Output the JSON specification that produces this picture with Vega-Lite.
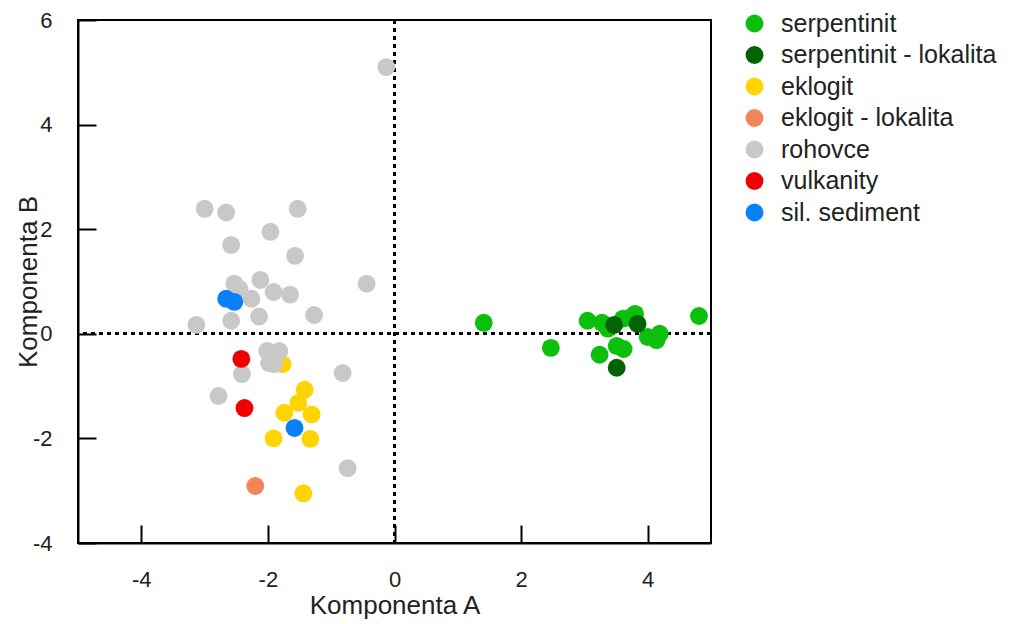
{
  "$schema": "https://vega.github.io/schema/vega-lite/v6.json",
  "autosize": "none",
  "width": 633,
  "height": 523,
  "padding": {"left": 78, "top": 20, "right": 305, "bottom": 81},
  "background": "white",
  "config": {
    "font": "Liberation Sans",
    "view": {"stroke": "black", "strokeWidth": 2},
    "axis": {
      "grid": false,
      "domainColor": "black",
      "domainWidth": 2,
      "tickColor": "black",
      "tickWidth": 2,
      "tickSize": -18,
      "labelFont": "Liberation Sans",
      "labelColor": "#222",
      "labelExpr": "'' + datum.value",
      "titleFont": "Liberation Sans",
      "titleFontWeight": "normal",
      "titleColor": "#222"
    },
    "legend": {
      "labelFont": "Liberation Sans",
      "labelFontSize": 25,
      "labelColor": "#222",
      "labelLimit": 400,
      "symbolSize": 320,
      "symbolType": "circle",
      "symbolStrokeWidth": 0,
      "rowPadding": 5.5,
      "labelOffset": 14
    }
  },
  "data": {
    "values": [
      {"a": 1.41, "b": 0.21, "typ": "serpentinit"},
      {"a": 2.47, "b": -0.27, "typ": "serpentinit"},
      {"a": 3.05, "b": 0.25, "typ": "serpentinit"},
      {"a": 3.28, "b": 0.21, "typ": "serpentinit"},
      {"a": 3.24, "b": -0.4, "typ": "serpentinit"},
      {"a": 3.51, "b": -0.23, "typ": "serpentinit"},
      {"a": 3.62, "b": -0.29, "typ": "serpentinit"},
      {"a": 3.61, "b": 0.29, "typ": "serpentinit"},
      {"a": 3.8, "b": 0.38, "typ": "serpentinit"},
      {"a": 3.72, "b": 0.31, "typ": "serpentinit"},
      {"a": 3.37, "b": 0.1, "typ": "serpentinit"},
      {"a": 4.0, "b": -0.06, "typ": "serpentinit"},
      {"a": 4.14, "b": -0.12, "typ": "serpentinit"},
      {"a": 4.19, "b": 0.0, "typ": "serpentinit"},
      {"a": 4.81, "b": 0.34, "typ": "serpentinit"},
      {"a": 3.47, "b": 0.17, "typ": "serpentinit - lokalita"},
      {"a": 3.84, "b": 0.19, "typ": "serpentinit - lokalita"},
      {"a": 3.51, "b": -0.65, "typ": "serpentinit - lokalita"},
      {"a": -1.77, "b": -0.58, "typ": "eklogit"},
      {"a": -1.42, "b": -1.07, "typ": "eklogit"},
      {"a": -1.52, "b": -1.32, "typ": "eklogit"},
      {"a": -1.74, "b": -1.51, "typ": "eklogit"},
      {"a": -1.31, "b": -1.54, "typ": "eklogit"},
      {"a": -1.91, "b": -2.0, "typ": "eklogit"},
      {"a": -1.33, "b": -2.01, "typ": "eklogit"},
      {"a": -1.44, "b": -3.05, "typ": "eklogit"},
      {"a": -2.2, "b": -2.91, "typ": "eklogit - lokalita"},
      {"a": -0.13, "b": 5.1, "typ": "rohovce"},
      {"a": -3.0, "b": 2.39, "typ": "rohovce"},
      {"a": -2.66, "b": 2.32, "typ": "rohovce"},
      {"a": -1.53, "b": 2.39, "typ": "rohovce"},
      {"a": -1.96, "b": 1.95, "typ": "rohovce"},
      {"a": -2.58, "b": 1.7, "typ": "rohovce"},
      {"a": -1.57, "b": 1.49, "typ": "rohovce"},
      {"a": -0.44, "b": 0.96, "typ": "rohovce"},
      {"a": -2.12, "b": 1.03, "typ": "rohovce"},
      {"a": -2.53, "b": 0.96, "typ": "rohovce"},
      {"a": -2.45, "b": 0.86, "typ": "rohovce"},
      {"a": -2.26, "b": 0.67, "typ": "rohovce"},
      {"a": -1.91, "b": 0.8, "typ": "rohovce"},
      {"a": -1.65, "b": 0.75, "typ": "rohovce"},
      {"a": -2.58, "b": 0.25, "typ": "rohovce"},
      {"a": -2.14, "b": 0.33, "typ": "rohovce"},
      {"a": -1.27, "b": 0.36, "typ": "rohovce"},
      {"a": -3.13, "b": 0.17, "typ": "rohovce"},
      {"a": -2.01, "b": -0.33, "typ": "rohovce"},
      {"a": -1.82, "b": -0.33, "typ": "rohovce"},
      {"a": -1.98, "b": -0.56, "typ": "rohovce"},
      {"a": -1.9, "b": -0.58, "typ": "rohovce"},
      {"a": -2.41, "b": -0.77, "typ": "rohovce"},
      {"a": -0.82, "b": -0.75, "typ": "rohovce"},
      {"a": -2.78, "b": -1.19, "typ": "rohovce"},
      {"a": -0.74, "b": -2.57, "typ": "rohovce"},
      {"a": -2.42, "b": -0.48, "typ": "vulkanity"},
      {"a": -2.37, "b": -1.42, "typ": "vulkanity"},
      {"a": -2.66, "b": 0.67, "typ": "sil. sediment"},
      {"a": -2.53, "b": 0.61, "typ": "sil. sediment"},
      {"a": -1.58, "b": -1.8, "typ": "sil. sediment"}
    ]
  },
  "layer": [
    {
      "mark": {"type": "rule", "color": "black", "strokeWidth": 2, "strokeDash": [4, 4]},
      "encoding": {"x": {"datum": 0, "type": "quantitative"}}
    },
    {
      "mark": {"type": "rule", "color": "black", "strokeWidth": 2, "strokeDash": [4, 4]},
      "encoding": {"y": {"datum": 0, "type": "quantitative"}}
    },
    {
      "mark": {"type": "circle", "size": 320, "opacity": 1},
      "encoding": {
        "x": {
          "field": "a",
          "type": "quantitative",
          "title": "Komponenta A",
          "scale": {"domain": [-5, 5], "nice": false, "zero": false},
          "axis": {"values": [-4, -2, 0, 2, 4], "labelFontSize": 22, "titleFontSize": 26, "labelPadding": 44, "titlePadding": 2}
        },
        "y": {
          "field": "b",
          "type": "quantitative",
          "title": "Komponenta B",
          "scale": {"domain": [-4, 6], "nice": false, "zero": false},
          "axis": {"values": [-4, -2, 0, 2, 4, 6], "labelFontSize": 22, "titleFontSize": 26, "labelPadding": 44, "titlePadding": -9}
        },
        "color": {
          "field": "typ",
          "type": "nominal",
          "title": null,
          "scale": {
            "domain": ["serpentinit", "serpentinit - lokalita", "eklogit", "eklogit - lokalita", "rohovce", "vulkanity", "sil. sediment"],
            "range": ["#0cbf0c", "#006400", "#ffd400", "#f4845a", "#c8c8c8", "#f00000", "#0a80f5"]
          },
          "legend": {"orient": "none", "legendX": 664, "legendY": -9}
        }
      }
    }
  ]
}
